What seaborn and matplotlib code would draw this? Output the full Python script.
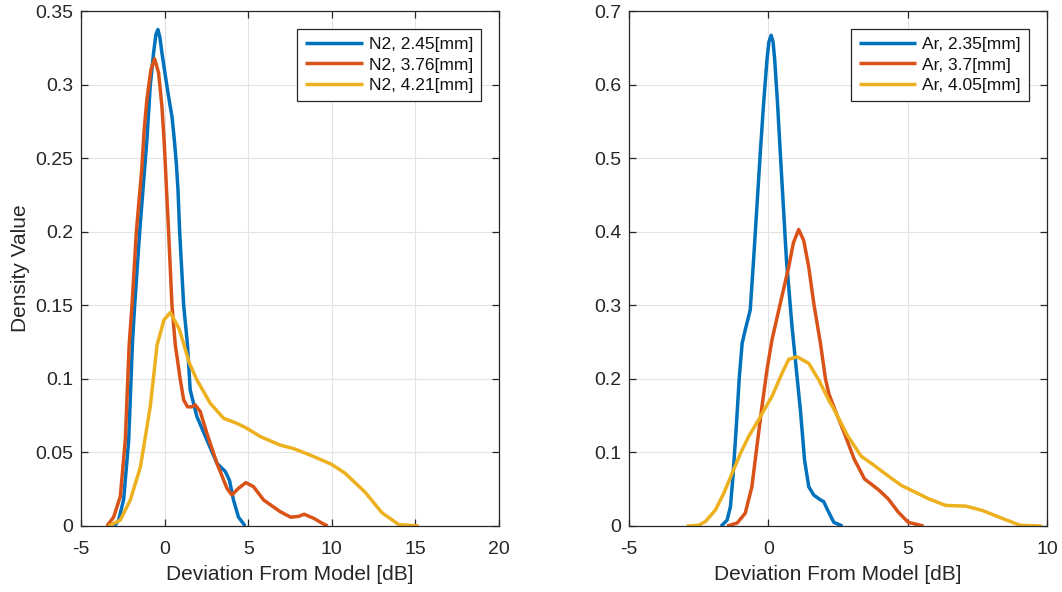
import numpy as np
import pandas as pd
import matplotlib
matplotlib.use("Agg")
import matplotlib.pyplot as plt
import seaborn as sns

# ---------------- data ----------------
n2_labels = ["N2, 2.45[mm]", "N2, 3.76[mm]", "N2, 4.21[mm]"]
ar_labels = ["Ar, 2.35[mm]", "Ar, 3.7[mm]", "Ar, 4.05[mm]"]

n2_245_x = [-3.0, -2.75, -2.45, -2.15, -1.92, -1.79, -1.49, -1.18, -1.06, -0.86, -0.66, -0.52,
            -0.40, -0.28, -0.16, 0.08, 0.30, 0.44, 0.58, 0.70, 0.80, 0.90, 1.14, 1.37, 1.53,
            1.93, 2.53, 3.13, 3.63, 3.88, 4.12, 4.42, 4.82]
n2_245_y = [0.0, 0.004, 0.018, 0.058, 0.125, 0.150, 0.200, 0.245, 0.262, 0.299, 0.3215, 0.334,
            0.3374, 0.332, 0.3215, 0.3034, 0.2875, 0.2784, 0.2626, 0.2467, 0.2286, 0.200, 0.150, 0.123, 0.0925,
            0.0744, 0.0585, 0.0426, 0.037, 0.031, 0.0177, 0.006, 0.0]

n2_376_x = [-3.45, -3.05, -2.65, -2.35, -2.12, -1.95, -1.69, -1.37, -1.22, -1.06, -0.82, -0.60,
            -0.36, -0.16, -0.02, 0.10, 0.24, 0.44, 0.64, 0.94, 1.14, 1.37, 1.62, 1.83, 2.13,
            2.53, 3.13, 3.73, 4.02, 4.42, 4.86, 5.32, 5.92, 6.92, 7.54, 8.0, 8.35, 8.96, 9.4, 9.75]
n2_376_y = [0.0, 0.006, 0.020, 0.0585, 0.123, 0.150, 0.200, 0.242, 0.2694, 0.2898, 0.310, 0.3175,
            0.308, 0.2852, 0.2603, 0.232, 0.200, 0.150, 0.123, 0.0993, 0.0857, 0.081, 0.081, 0.0823, 0.0778,
            0.063, 0.0426, 0.0256, 0.0211, 0.0256, 0.0295, 0.0267, 0.0177, 0.0097, 0.006, 0.0065, 0.008, 0.005, 0.002, 0.0]

n2_421_x = [-3.35, -2.65, -2.05, -1.45, -1.16, -0.86, -0.45, -0.04, 0.34, 0.87, 1.24, 1.47,
            1.93, 2.73, 3.53, 4.32, 4.92, 5.72, 6.91, 7.74, 8.75, 9.97, 10.78, 11.99, 13.0, 14.0, 15.2]
n2_421_y = [0.0, 0.004, 0.0177, 0.040, 0.060, 0.081, 0.123, 0.140, 0.1451, 0.134, 0.120, 0.111,
            0.0993, 0.0834, 0.0732, 0.0698, 0.0664, 0.0608, 0.055, 0.0525, 0.048, 0.042, 0.036, 0.023, 0.009, 0.001, 0.0]

ar_235_x = [-1.71, -1.66, -1.48, -1.36, -1.27, -1.15, -1.04, -0.94, -0.83, -0.65, -0.53, -0.41,
            -0.29, -0.17, -0.05, 0.02, 0.10, 0.17, 0.23, 0.33, 0.43, 0.54, 0.65, 0.85, 1.03,
            1.15, 1.30, 1.45, 1.63, 1.85, 1.99, 2.11, 2.35, 2.66]
ar_235_y = [0.0, 0.001, 0.008, 0.0262, 0.067, 0.135, 0.203, 0.2483, 0.2664, 0.2936, 0.3616, 0.434,
            0.5066, 0.5745, 0.633, 0.658, 0.667, 0.658, 0.633, 0.5745, 0.5066, 0.434, 0.3616, 0.271, 0.203,
            0.158, 0.0897, 0.0534, 0.0421, 0.036, 0.033, 0.023, 0.005, 0.0]

ar_37_x = [-1.48, -1.12, -0.83, -0.59, -0.41, -0.23, -0.05, 0.13, 0.43, 0.73, 0.90, 1.09, 1.27,
           1.45, 1.63, 1.87, 2.05, 2.17, 2.42, 2.72, 3.08, 3.45, 3.93, 4.30, 4.66, 5.02, 5.57]
ar_37_y = [0.0, 0.004, 0.0173, 0.0534, 0.108, 0.162, 0.212, 0.2528, 0.3027, 0.352, 0.385, 0.403, 0.388,
           0.352, 0.3027, 0.2483, 0.200, 0.180, 0.155, 0.127, 0.091, 0.064, 0.050, 0.037, 0.019, 0.005, 0.0]

ar_405_x = [-2.93, -2.5, -2.26, -1.90, -1.60, -1.30, -1.0, -0.71, -0.35, -0.11, 0.13, 0.49, 0.73,
            1.03, 1.45, 1.81, 2.17, 2.35, 2.84, 3.33, 3.81, 4.30, 4.78, 5.27, 5.75, 6.36, 7.09,
            7.69, 8.42, 9.03, 9.81]
ar_405_y = [0.0, 0.001, 0.006, 0.0217, 0.0444, 0.0716, 0.0988, 0.1214, 0.1443, 0.1605, 0.176, 0.2075, 0.2265,
            0.230, 0.2211, 0.1985, 0.171, 0.159, 0.123, 0.095, 0.082, 0.068, 0.055, 0.046, 0.037, 0.028, 0.027,
            0.021, 0.010, 0.001, 0.0]

n2_xticks = [-5, 0, 5, 10, 15, 20]
n2_yticks = [0, 0.05, 0.1, 0.15, 0.2, 0.25, 0.3, 0.35]
ar_xticks = [-5, 0, 5, 10]
ar_yticks = [0, 0.1, 0.2, 0.3, 0.4, 0.5, 0.6, 0.7]

colors = ["#0072BD", "#D95319", "#EDB120"]

# ---------------- styling ----------------
sns.set_style("white")
plt.rcParams["font.family"] = ["Liberation Sans", "DejaVu Sans"]

W, H = 1062, 592
fig = plt.figure(figsize=(W / 100, H / 100), dpi=100)
ax1 = fig.add_axes([81 / W, 66 / H, 418 / W, 515 / H])
ax2 = fig.add_axes([629 / W, 66 / H, 418 / W, 515 / H])


def draw(ax, series, labels, xlim, ylim, xticks, yticks, ylabel):
    for (xs, ys), lab, c in zip(series, labels, colors):
        df = pd.DataFrame({"x": xs, "y": ys})
        sns.lineplot(data=df, x="x", y="y", ax=ax, color=c, lw=2.5, label=lab,
                     sort=False, estimator=None, solid_joinstyle="round", solid_capstyle="butt")
    ax.set_xlim(*xlim)
    ax.set_ylim(*ylim)
    ax.set_xticks(xticks)
    ax.set_yticks(yticks)
    ax.set_xticklabels([f"{t:g}" for t in xticks])
    ax.set_yticklabels([f"{t:g}" for t in yticks])
    ax.grid(True, color="#e3e3e3", lw=0.8)
    ax.set_axisbelow(True)
    for s in ax.spines.values():
        s.set_visible(True)
        s.set_color("#262626")
        s.set_linewidth(0.9)
    ax.tick_params(direction="in", length=5, width=0.9, color="#262626",
                   top=True, right=True, bottom=True, left=True,
                   labelsize=14, labelcolor="#262626")
    ax.tick_params(axis="x", pad=11)
    ax.tick_params(axis="y", pad=5.5)
    ax.set_xlabel("Deviation From Model [dB]", fontsize=15, color="#262626", labelpad=5)
    ax.set_ylabel(ylabel, fontsize=15, color="#262626", labelpad=4)
    leg = ax.legend(loc="upper right", fontsize=12.5, frameon=True, fancybox=False,
                    edgecolor="#262626", framealpha=1, handlelength=3.3, handletextpad=0.35,
                    borderpad=0.45, labelspacing=0.3, borderaxespad=1.05)
    leg.get_frame().set_linewidth(0.9)
    for t in leg.get_texts():
        t.set_color("#111111")


draw(ax1, [(n2_245_x, n2_245_y), (n2_376_x, n2_376_y), (n2_421_x, n2_421_y)],
     n2_labels, (-5, 20), (0, 0.35), n2_xticks, n2_yticks, "Density Value")
draw(ax2, [(ar_235_x, ar_235_y), (ar_37_x, ar_37_y), (ar_405_x, ar_405_y)],
     ar_labels, (-5, 10), (0, 0.7), ar_xticks, ar_yticks, "")

fig.savefig("out.png", dpi=100)
